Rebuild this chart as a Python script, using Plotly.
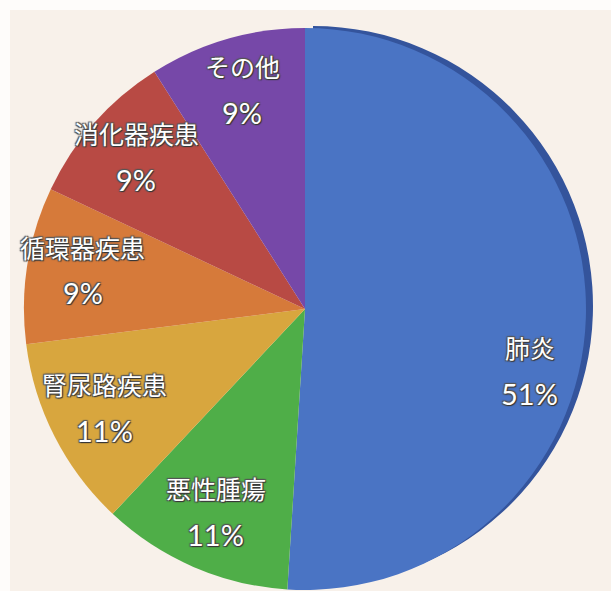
import math
import plotly.graph_objects as go

# Causes of death breakdown (percent)
labels = ["肺炎", "悪性腫瘍", "腎尿路疾患", "循環器疾患", "消化器疾患", "その他"]
values = [51, 11, 11, 9, 9, 9]
colors = ["#4a74c4", "#4fae48", "#d8a63e", "#d67a3a", "#b84a44", "#7648a8"]

W, H = 611, 591
CX, CY, R = 305, 309, 281  # pie centre / radius in pixels


def domain_for(cx, cy, r):
    clamp = lambda v: min(1.0, max(0.0, v))
    return dict(x=[clamp((cx - r) / W), clamp((cx + r) / W)],
                y=[clamp((H - cy - r) / H), clamp((H - cy + r) / H)])


fig = go.Figure()

# darker rim behind the first slice, giving a slight 3D edge
rim_colors = ["#34549c"] + ["rgba(0,0,0,0)"] * (len(values) - 1)
fig.add_trace(go.Pie(
    labels=labels, values=values, sort=False, direction="clockwise",
    rotation=0, textinfo="none", hoverinfo="skip", showlegend=False,
    marker=dict(colors=rim_colors, line=dict(width=0)),
    domain=domain_for(CX + 8, CY - 3, R - 1),
))

fig.add_trace(go.Pie(
    labels=labels, values=values, sort=False, direction="clockwise",
    rotation=0, textinfo="none", showlegend=False,
    marker=dict(colors=colors, line=dict(width=0)),
    domain=domain_for(CX, CY, R),
))

# slice labels placed along each slice's mid-angle
total = sum(values)
cum = 0
annotations = []
shadow = "1px 1px 1px #333, -1px -1px 1px #555, 1px -1px 1px #555, -1px 1px 1px #555"
for lab, v in zip(labels, values):
    mid = (cum + v / 2) / total * 2 * math.pi
    cum += v
    rf = 0.80
    px = CX + rf * R * math.sin(mid)
    py = CY - 5 - rf * R * math.cos(mid) + (58 if v > 40 else 0)
    annotations.append(dict(
        x=px / W, y=1 - (py - 22) / H, xref="paper", yref="paper",
        text=lab, showarrow=False, xanchor="center", yanchor="middle",
        font=dict(family="Noto Sans CJK JP", size=25, color="white",
                  shadow=shadow),
    ))
    annotations.append(dict(
        x=px / W, y=1 - (py + 24) / H, xref="paper", yref="paper",
        text=f"{v}%", showarrow=False, xanchor="center", yanchor="middle",
        font=dict(family="Lato", size=29, color="white", shadow=shadow),
    ))

fig.update_layout(
    width=W, height=H,
    margin=dict(l=0, r=0, t=0, b=0),
    paper_bgcolor="#fefcfa",
    plot_bgcolor="#fefcfa",
    annotations=annotations,
    shapes=[dict(type="rect", xref="paper", yref="paper",
                 x0=10 / W, x1=1, y0=0, y1=1 - 10 / H,
                 fillcolor="#f8f1ea", line=dict(width=0), layer="below")],
)

fig.write_html("out.html")
